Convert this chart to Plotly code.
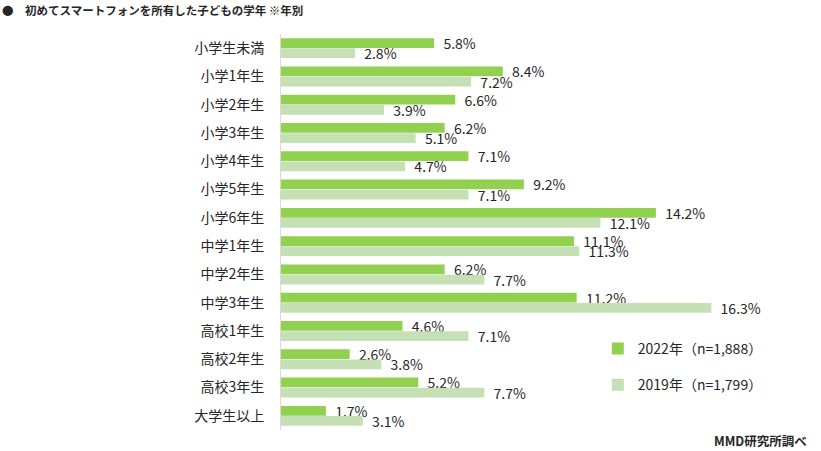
import plotly.graph_objects as go

categories = ["小学生未満", "小学1年生", "小学2年生", "小学3年生", "小学4年生", "小学5年生", "小学6年生",
              "中学1年生", "中学2年生", "中学3年生", "高校1年生", "高校2年生", "高校3年生", "大学生以上"]
v2022 = [5.8, 8.4, 6.6, 6.2, 7.1, 9.2, 14.2, 11.1, 6.2, 11.2, 4.6, 2.6, 5.2, 1.7]
v2019 = [2.8, 7.2, 3.9, 5.1, 4.7, 7.1, 12.1, 11.3, 7.7, 16.3, 7.1, 3.8, 7.7, 3.1]
name2022 = "2022年（n=1,888）"
name2019 = "2019年（n=1,799）"

FONT = "Noto Sans CJK JP, Meiryo, sans-serif"

fig = go.Figure()
fig.add_trace(go.Bar(
    y=categories, x=v2022, orientation="h", name=name2022,
    marker=dict(color="#92D050", line=dict(width=0)),
    text=[f"  {v:.1f}%" for v in v2022], textposition="outside", constraintext="none",
    textfont=dict(size=14, color="#262626", family=FONT), cliponaxis=False,
    legendgroup="a",
))
fig.add_trace(go.Bar(
    y=categories, x=v2019, orientation="h", name=name2019,
    marker=dict(color="#C5E0B4", line=dict(width=0)),
    text=[f"  {v:.1f}%" for v in v2019], textposition="outside", constraintext="none",
    textfont=dict(size=14, color="#262626", family=FONT), cliponaxis=False,
    legendgroup="b",
))

fig.update_layout(
    width=821, height=451,
    margin=dict(l=281, r=12, t=34, b=21),
    paper_bgcolor="white", plot_bgcolor="white",
    barmode="group", bargap=0.28, bargroupgap=0.04,
    font=dict(family=FONT, size=14, color="#262626"),
    showlegend=True,
    legend=dict(x=0.60, y=0.245, xanchor="left", yanchor="top",
                traceorder="grouped", tracegroupgap=15,
                font=dict(size=14, color="#262626"),
                bgcolor="rgba(0,0,0,0)", itemwidth=30),
    uniformtext=dict(mode=False),
)
fig.update_xaxes(range=[0, 20], visible=False, showgrid=False, zeroline=False)
fig.update_yaxes(autorange="reversed", showgrid=False, zeroline=False,
                 showline=True, linecolor="#D9D9D9", linewidth=1,
                 ticks="", ticklabelstandoff=13,
                 tickfont=dict(size=14, color="#262626", family=FONT))

fig.add_annotation(xref="paper", yref="paper", x=-281/528, y=1, yshift=34,
                   xanchor="left", yanchor="top", showarrow=False,
                   text="<b>●　初めてスマートフォンを所有した子どもの学年 ※年別</b>",
                   font=dict(size=11.5, color="#262626", family=FONT))
fig.add_annotation(xref="paper", yref="paper", x=1, y=0, yshift=-10, xshift=0,
                   xanchor="right", yanchor="middle", showarrow=False,
                   text="<b>MMD研究所調べ</b>",
                   font=dict(size=12.5, color="#262626", family=FONT))

fig.write_html("out.html")
